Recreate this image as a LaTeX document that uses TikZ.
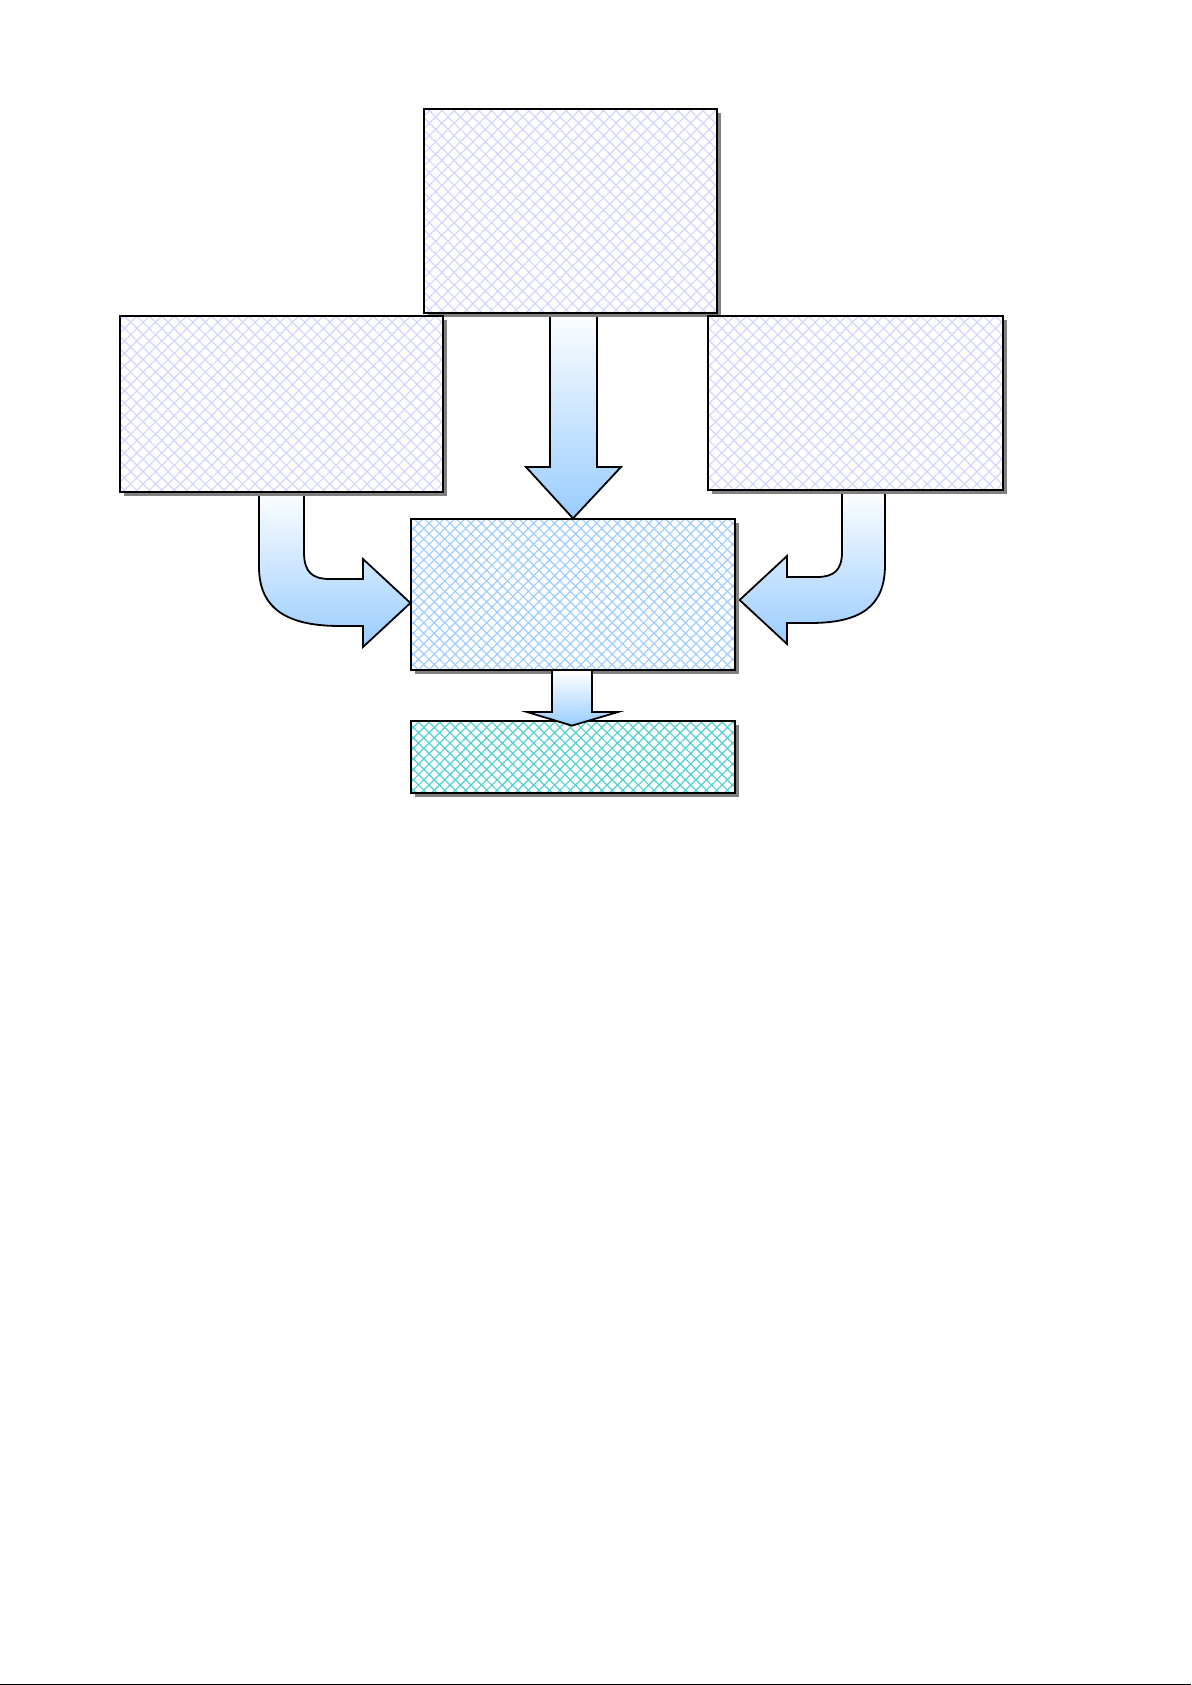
\documentclass[tikz,border=0pt]{standalone}
\usetikzlibrary{patterns.meta,shadows,backgrounds,calc}
\definecolor{lav}{RGB}{212,212,255}
\definecolor{skyl}{RGB}{160,205,255}
\definecolor{tealh}{RGB}{80,208,208}
\definecolor{arrowblue}{RGB}{153,204,255}
\definecolor{shadowgray}{RGB}{128,128,128}
\tikzset{
  box/.style={rectangle, draw=none, inner sep=0pt,
    general shadow={shadow xshift=2pt, shadow yshift=-2pt, fill=shadowgray},
    preaction={fill=white}},
  hatch/.style n args={2}{pattern={Lines[angle=45,distance=#2,line width=0.6pt]}, pattern color=#1,
    postaction={pattern={Lines[angle=-45,distance=#2,line width=0.6pt]}, pattern color=#1},
    postaction={draw=black, line width=1.4pt}},
  blockarrow/.style={draw=black, line width=0.9pt, line join=miter, top color=white, bottom color=arrowblue}
}
\begin{document}
\begin{tikzpicture}[x=0.5pt,y=-0.5pt]
\useasboundingbox (0,0) rectangle (1191,1685);
% boxes
\node[box, hatch={lav}{4.4pt}, minimum width=146.5pt, minimum height=102pt] (top) at (570.5,211) {};
\node[box, hatch={lav}{4.4pt}, minimum width=161.5pt, minimum height=88pt] (left) at (281.5,404) {};
\node[box, hatch={lav}{4.4pt}, minimum width=147.5pt, minimum height=87pt] (right) at (855.5,403) {};
\node[box, hatch={skyl}{3.7pt}, minimum width=162pt, minimum height=75.5pt] (mid) at (573,594.5) {};
\node[box, hatch={tealh}{3.7pt}, minimum width=162pt, minimum height=36pt] (bot) at (573,757) {};
% arrows behind the boxes
\begin{scope}[on background layer]
  \coordinate (ttip) at (mid.north);
  \draw[blockarrow] (550,310) -- (550,467) -- (526,467) -- (ttip) -- (621,467) -- (597,467) -- (597,310) -- cycle;
  \coordinate (ltip) at ($(mid.west)+(0,8.5)$);
  \draw[blockarrow] (259,488) -- (259,567) .. controls (259,612) and (292,626) .. (340,626) -- (363,626)
     -- (363,647) -- (ltip) -- (363,559) -- (363,579) -- (330,579)
     .. controls (312,579) and (304,572) .. (304,552) -- (304,488) -- cycle;
  \coordinate (rtip) at ($(mid.east)+(4,5.5)$);
  \draw[blockarrow] (842,488) -- (842,552) .. controls (842,570) and (834,577) .. (817,577) -- (787,577)
     -- (787,556) -- (rtip) -- (787,644) -- (787,623) -- (810,623)
     .. controls (860,623) and (885,607) .. (885,565) -- (885,488) -- cycle;
\end{scope}
% small arrow on top
\coordinate (btip) at ($(bot.north)+(-1,5)$);
\draw[blockarrow] (552,671) -- (552,712) -- (527,712) -- (btip) -- (618,712) -- (592,712) -- (592,671);
% scan line at bottom edge
\fill[black] (0,1683.5) rectangle (1191,1685);
\end{tikzpicture}
\end{document}
